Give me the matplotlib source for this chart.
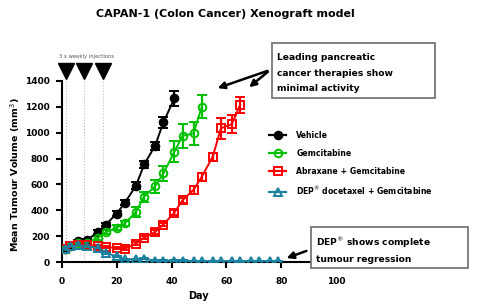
import matplotlib
matplotlib.use("Agg")
import matplotlib.pyplot as plt
from matplotlib.patches import Rectangle, FancyArrowPatch
from matplotlib.lines import Line2D

# ---- data ----
veh_days = [1, 3, 6, 9, 13, 16, 20, 23, 27, 30, 34, 37, 41]
veh_vals = [98, 124, 160, 168, 230, 290, 375, 460, 590, 755, 900, 1080, 1265]
veh_err = [8, 10, 12, 12, 15, 15, 18, 20, 25, 30, 30, 40, 60]

gem_days = [1, 3, 6, 9, 13, 16, 20, 23, 27, 30, 34, 37, 41, 44, 48, 51]
gem_vals = [100, 120, 150, 150, 186, 230, 265, 300, 388, 505, 587, 685, 853, 975, 995, 1200]
gem_err = [8, 10, 12, 12, 15, 15, 18, 20, 40, 40, 50, 60, 80, 90, 90, 90]

abx_days = [1, 3, 6, 9, 13, 16, 20, 23, 27, 30, 34, 37, 41, 44, 48, 51, 55, 58, 62, 65]
abx_vals = [100, 120, 130, 130, 125, 116, 108, 103, 142, 189, 233, 290, 382, 478, 558, 659, 814, 1034, 1067, 1215]
abx_err = [8, 10, 10, 10, 10, 10, 10, 10, 12, 12, 15, 15, 18, 20, 30, 30, 30, 80, 70, 60]

dep_days = [1, 3, 6, 9, 13, 16, 20, 23, 27, 30, 34, 37, 41, 44, 48, 51, 55, 58, 62, 65, 69, 72, 76, 79]
dep_vals = [100, 120, 130, 120, 110, 70, 44, 21, 20, 25, 10, 10, 10, 10, 8, 8, 5, 8, 8, 5, 8, 8, 8, 8]
dep_err = [8, 10, 10, 10, 10, 8, 6, 5, 5, 5, 3, 3, 3, 3, 3, 3, 2, 3, 3, 2, 3, 3, 3, 3]

injection_days = [1.5, 8, 15]

x_ticks = [0, 20, 40, 60, 80, 100]
y_ticks = [0, 200, 400, 600, 800, 1000, 1200, 1400]

labels = ["Vehicle", "Gemcitabine", "Abraxane + Gemcitabine", "DEP$^{\u00ae}$ docetaxel + Gemcitabine"]
colors = ["#000000", "#00C000", "#FF0000", "#1A82A0"]

W, H = 484, 305
fig = plt.figure(figsize=(W / 100, H / 100), dpi=100)
ax = fig.add_axes([62 / W, (H - 262) / H, (336 - 62) / W, (262 - 81) / H])

series = [
    (veh_days, veh_vals, veh_err, "o", True),
    (gem_days, gem_vals, gem_err, "o", False),
    (abx_days, abx_vals, abx_err, "s", False),
    (dep_days, dep_vals, dep_err, "^", False),
]
handles = []
for (d, v, e, m, filled), c, lab in zip(series, colors, labels):
    ax.errorbar(d, v, yerr=e, color=c, marker=m, markersize=5.5,
                markerfacecolor=c if filled else "none", markeredgecolor=c,
                markeredgewidth=1.4, linewidth=1.4, elinewidth=1.6,
                capsize=3.5, capthick=1.6, zorder=3)
    handles.append(Line2D([], [], color=c, marker=m, markersize=5.5,
                          markerfacecolor=c if filled else "none", markeredgecolor=c,
                          markeredgewidth=1.4, linewidth=1.6))

# injection markers
for dday in injection_days:
    ax.plot([dday, dday], [0, 1400], linestyle=":", color="#bbbbbb", linewidth=0.8, zorder=1)
ax.plot(injection_days, [1475] * 3, linestyle="none", marker="v", markersize=11,
        color="black", clip_on=False, zorder=5)
ax.text(9, 1590, "3 x weekly injections", fontsize=3.8, color="#555555",
        ha="center", va="center")

ax.set_xlim(0, 100)
ax.set_ylim(0, 1400)
ax.set_xticks(x_ticks)
ax.set_yticks(y_ticks)
ax.set_xticklabels([str(t) for t in x_ticks], fontsize=6.5, fontweight="bold")
ax.set_yticklabels([str(t) for t in y_ticks], fontsize=6.5, fontweight="bold")
for s in ["top", "right"]:
    ax.spines[s].set_visible(False)
for s in ["left", "bottom"]:
    ax.spines[s].set_linewidth(1.5)
ax.tick_params(axis="x", length=4, width=1.5, pad=7)
ax.tick_params(axis="y", length=4, width=1.5, pad=5)
ax.set_xlabel("Day", fontsize=7, fontweight="bold")
ax.set_ylabel("Mean Tumour Volume (mm$^{3}$)", fontsize=6.8, fontweight="bold")
ax.xaxis.set_label_coords((198 - 62) / 274, (262 - 291) / 181)
ax.yaxis.set_label_coords((22 - 62) / 274, (262 - 175) / 181)

fig.text(225 / W, 1 - 14 / H, "CAPAN-1 (Colon Cancer) Xenograft model", fontsize=8,
         fontweight="bold", ha="center", va="center")

leg = fig.legend(handles=handles, labels=labels, loc="upper left",
                 bbox_to_anchor=(266 / W, 1 - 128 / H), frameon=False,
                 prop={"size": 5.6, "weight": "bold"}, handlelength=2.2,
                 labelspacing=1.12, handletextpad=1.3, borderaxespad=0)

# annotation boxes
fig.patches.append(Rectangle((272 / W, 1 - 98 / H), (435 - 272) / W, (98 - 43) / H,
                             transform=fig.transFigure, facecolor="white",
                             edgecolor="#777777", linewidth=1.3, zorder=10))
for i, line in enumerate(["Leading pancreatic", "cancer therapies show", "minimal activity"]):
    fig.text(277 / W, 1 - (57 + 16 * i) / H, line, fontsize=6.6, fontweight="bold",
             ha="left", va="center", zorder=11)

fig.patches.append(Rectangle((311 / W, 1 - 268 / H), (468 - 311) / W, (268 - 227) / H,
                             transform=fig.transFigure, facecolor="white",
                             edgecolor="#777777", linewidth=1.3, zorder=10))
fig.text(316 / W, 1 - 243 / H, "DEP$^{\u00ae}$ shows complete", fontsize=6.6, fontweight="bold",
         ha="left", va="center", zorder=11)
fig.text(316 / W, 1 - 259 / H, "tumour regression", fontsize=6.6, fontweight="bold",
         ha="left", va="center", zorder=11)

arrow_kw = dict(arrowstyle="-|>", color="black", lw=1.8, mutation_scale=10)
for tip in [(215, 89), (247, 89)]:
    fig.add_artist(FancyArrowPatch(
        (270 / W, 1 - 70 / H), (tip[0] / W, 1 - tip[1] / H),
        transform=fig.transFigure, **arrow_kw))
fig.add_artist(FancyArrowPatch(
    (309 / W, 1 - 250 / H), (284 / W, 1 - 259 / H),
    transform=fig.transFigure, **arrow_kw))

fig.savefig("out.png", dpi=100)
